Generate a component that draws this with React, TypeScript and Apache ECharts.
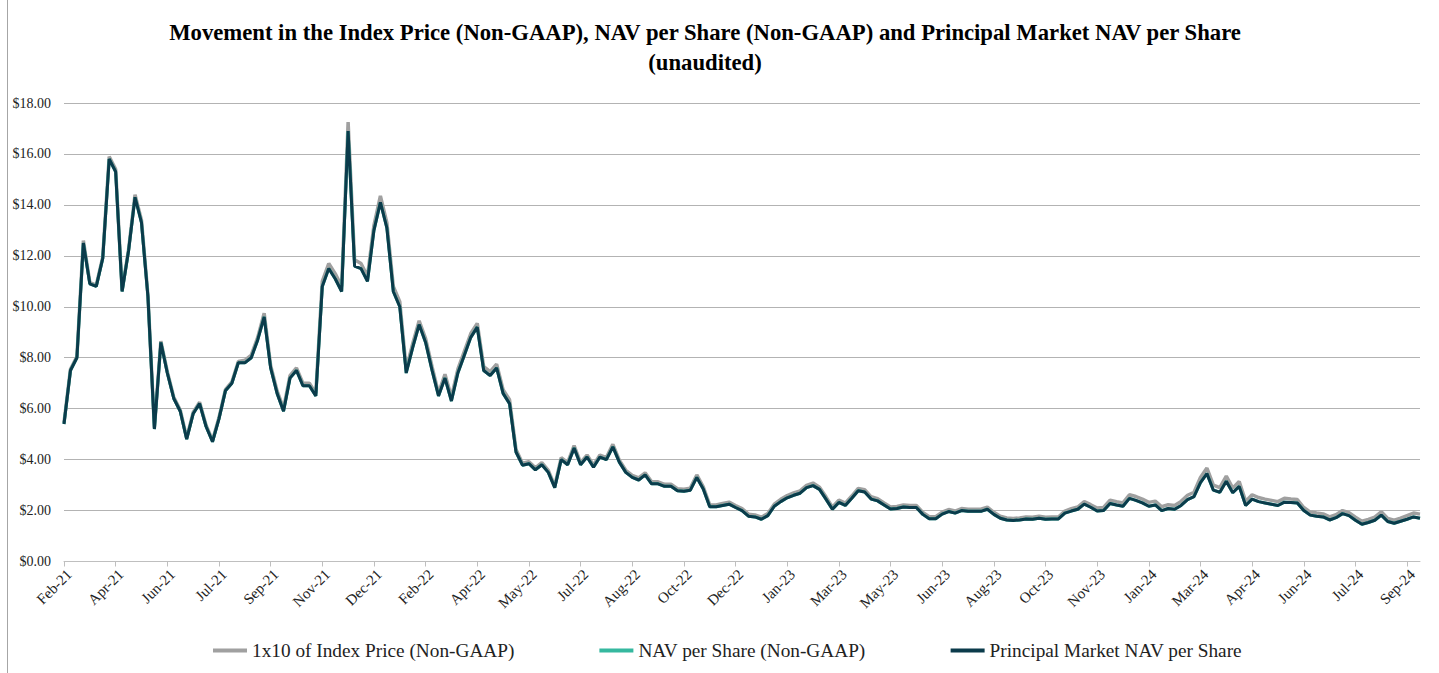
import React, { useEffect, useRef } from "react";
import * as echarts from "echarts";

const tickLabels = [
  "Feb-21", "Apr-21", "Jun-21", "Jul-21", "Sep-21", "Nov-21", "Dec-21", "Feb-22", "Apr-22",
  "May-22", "Jul-22", "Aug-22", "Oct-22", "Dec-22", "Jan-23", "Mar-23", "May-23", "Jun-23",
  "Aug-23", "Oct-23", "Nov-23", "Jan-24", "Mar-24", "Apr-24", "Jun-24", "Jul-24", "Sep-24",
];

// 1x10 of Index Price (Non-GAAP)
const indexPrice = [
  5.45, 7.55, 8.05, 12.6, 10.95, 10.85, 11.95, 15.9, 15.4, 10.65,
  12.25, 14.4, 13.4, 10.45, 5.25, 8.65, 7.45, 6.45, 5.95, 4.85,
  5.85, 6.25, 5.35, 4.75, 5.65, 6.75, 7.05, 7.85, 7.9, 8.1,
  8.8, 9.75, 7.7, 6.7, 6.0, 7.3, 7.6, 7.0, 7.0, 6.6,
  11.0, 11.7, 11.3, 10.8, 17.25, 11.85, 11.7, 11.2, 13.2, 14.35,
  13.3, 10.8, 10.2, 7.55, 8.55, 9.45, 8.75, 7.65, 6.6, 7.35,
  6.45, 7.55, 8.25, 8.95, 9.35, 7.65, 7.45, 7.75, 6.75, 6.35,
  4.4, 3.86, 3.92, 3.68, 3.88, 3.58, 2.97, 4.08, 3.88, 4.55,
  3.88, 4.18, 3.78, 4.18, 4.08, 4.6, 3.98, 3.58, 3.38, 3.28,
  3.48, 3.13, 3.13, 3.03, 3.03, 2.86, 2.84, 2.88, 3.4, 2.93,
  2.22, 2.22, 2.28, 2.33, 2.2, 2.08, 1.86, 1.83, 1.74, 1.88,
  2.25, 2.44, 2.59, 2.69, 2.77, 2.99, 3.08, 2.92, 2.54, 2.13,
  2.41, 2.29, 2.57, 2.87, 2.82, 2.54, 2.47, 2.3, 2.14, 2.16,
  2.22, 2.2, 2.2, 1.93, 1.76, 1.76, 1.94, 2.04, 1.98, 2.08,
  2.05, 2.05, 2.05, 2.13, 1.93, 1.78, 1.71, 1.69, 1.71, 1.75,
  1.74, 1.78, 1.74, 1.75, 1.75, 1.98, 2.07, 2.14, 2.35, 2.23,
  2.1, 2.12, 2.41, 2.35, 2.3, 2.62, 2.55, 2.45, 2.32, 2.37,
  2.15, 2.23, 2.2, 2.36, 2.6, 2.72, 3.3, 3.67, 3.0, 2.9,
  3.35, 2.88, 3.14, 2.36, 2.62, 2.51, 2.45, 2.4, 2.35, 2.48,
  2.45, 2.43, 2.12, 1.94, 1.9, 1.87, 1.75, 1.84, 2.0, 1.92,
  1.74, 1.58, 1.65, 1.74, 1.95, 1.69, 1.62, 1.7, 1.8, 1.9,
  1.86,
];

// Principal Market NAV per Share
const principalNav = [
  5.4, 7.5, 8.0, 12.5, 10.9, 10.8, 11.9, 15.8, 15.3, 10.6,
  12.2, 14.3, 13.3, 10.4, 5.2, 8.6, 7.4, 6.4, 5.9, 4.8,
  5.8, 6.2, 5.3, 4.7, 5.6, 6.7, 7.0, 7.8, 7.8, 8.0,
  8.7, 9.6, 7.6, 6.6, 5.9, 7.2, 7.5, 6.9, 6.9, 6.5,
  10.8, 11.5, 11.1, 10.6, 16.9, 11.6, 11.5, 11.0, 13.0, 14.1,
  13.1, 10.6, 10.0, 7.4, 8.4, 9.3, 8.6, 7.5, 6.5, 7.2,
  6.3, 7.4, 8.1, 8.8, 9.2, 7.5, 7.3, 7.6, 6.6, 6.2,
  4.3, 3.78, 3.84, 3.6, 3.8, 3.5, 2.9, 4.0, 3.8, 4.45,
  3.8, 4.1, 3.7, 4.1, 4.0, 4.5, 3.9, 3.5, 3.3, 3.2,
  3.4, 3.05, 3.05, 2.95, 2.95, 2.78, 2.76, 2.8, 3.3, 2.85,
  2.15, 2.15, 2.2, 2.25, 2.12, 2.0, 1.78, 1.75, 1.66, 1.8,
  2.17, 2.35, 2.5, 2.6, 2.68, 2.9, 2.98, 2.83, 2.45, 2.05,
  2.32, 2.2, 2.48, 2.78, 2.73, 2.45, 2.38, 2.22, 2.06, 2.08,
  2.14, 2.12, 2.12, 1.85, 1.68, 1.68, 1.86, 1.96, 1.9, 2.0,
  1.97, 1.97, 1.97, 2.05, 1.85, 1.7, 1.63, 1.61, 1.63, 1.67,
  1.66, 1.7, 1.66, 1.67, 1.67, 1.9, 1.98, 2.05, 2.25, 2.13,
  1.98, 2.0, 2.28, 2.22, 2.17, 2.48, 2.4, 2.3, 2.17, 2.22,
  2.0, 2.08, 2.05, 2.2, 2.43, 2.55, 3.1, 3.45, 2.8, 2.72,
  3.15, 2.7, 2.95, 2.2, 2.45, 2.35, 2.3, 2.25, 2.2, 2.33,
  2.32, 2.3, 2.0, 1.82, 1.78, 1.75, 1.63, 1.72, 1.88, 1.8,
  1.62, 1.46, 1.53, 1.62, 1.82, 1.57, 1.5, 1.58, 1.66, 1.75,
  1.7,
];

// NAV per Share (Non-GAAP) overlaps the principal market NAV in the picture
const navPerShare = principalNav;

const POINTS_PER_TICK = 8;
const categories = principalNav.map((_, i) => "p" + i);

const FONT = "'Liberation Serif', 'Times New Roman', serif";

export default function App() {
  const ref = useRef<HTMLDivElement>(null);

  useEffect(() => {
    if (!ref.current) return;
    const chart = echarts.init(ref.current, undefined, { renderer: "svg" });
    chart.setOption({
      animation: false,
      backgroundColor: "#ffffff",
      title: {
        text:
          "Movement in the Index Price (Non-GAAP), NAV per Share (Non-GAAP) and Principal Market NAV per Share\n(unaudited)",
        left: 700,
        top: 12,
        textAlign: "center",
        textStyle: {
          fontFamily: FONT,
          fontWeight: "bold",
          fontSize: 22.7,
          lineHeight: 30,
          color: "#000000",
        },
      },
      legend: {
        left: 208,
        top: 636,
        itemGap: 85,
        itemWidth: 34,
        itemHeight: 4,
        icon: "rect",
        textStyle: { fontFamily: FONT, fontSize: 19.3, color: "#222222" },
        data: [
          "1x10 of Index Price (Non-GAAP)",
          "NAV per Share (Non-GAAP)",
          "Principal Market NAV per Share",
        ],
      },
      grid: { left: 64, right: 19, top: 103, bottom: 111.5 },
      xAxis: {
        type: "category",
        boundaryGap: false,
        data: categories,
        axisLine: { lineStyle: { color: "#bfbfbf", width: 1 } },
        axisTick: {
          interval: POINTS_PER_TICK - 1,
          length: 5,
          lineStyle: { color: "#bfbfbf" },
        },
        axisLabel: {
          interval: POINTS_PER_TICK - 1,
          rotate: 45,
          margin: 5,
          verticalAlign: "top",
          fontFamily: FONT,
          fontSize: 15,
          color: "#222222",
          formatter: (_v: string, idx: number) => tickLabels[idx / POINTS_PER_TICK] ?? "",
        },
        splitLine: { show: false },
      },
      yAxis: {
        type: "value",
        min: 0,
        max: 18,
        interval: 2,
        axisLine: { show: false },
        axisTick: { show: false },
        axisLabel: {
          margin: 13,
          fontFamily: FONT,
          fontSize: 14,
          color: "#222222",
          formatter: (v: number) => "$" + v.toFixed(2),
        },
        splitLine: { lineStyle: { color: "#b3b3b3", width: 1 } },
      },
      graphic: [
        {
          type: "line",
          shape: { x1: 7.5, y1: 0, x2: 7.5, y2: 673 },
          style: { stroke: "#a6a6a6", lineWidth: 1 },
        },
      ],
      series: [
        {
          name: "1x10 of Index Price (Non-GAAP)",
          type: "line",
          data: indexPrice,
          showSymbol: false,
          color: "#a0a0a0",
          lineStyle: { width: 3.5, color: "#a0a0a0" },
          z: 1,
        },
        {
          name: "NAV per Share (Non-GAAP)",
          type: "line",
          data: navPerShare,
          showSymbol: false,
          color: "#35b89f",
          lineStyle: { width: 3, color: "#35b89f" },
          z: 2,
        },
        {
          name: "Principal Market NAV per Share",
          type: "line",
          data: principalNav,
          showSymbol: false,
          color: "#0b3b4b",
          lineStyle: { width: 3, color: "#0b3b4b" },
          z: 3,
        },
      ],
    });
    return () => chart.dispose();
  }, []);

  return (
    <div
      ref={ref}
      style={{ position: "absolute", left: 0, top: 0, width: 1439, height: 673 }}
    />
  );
}
